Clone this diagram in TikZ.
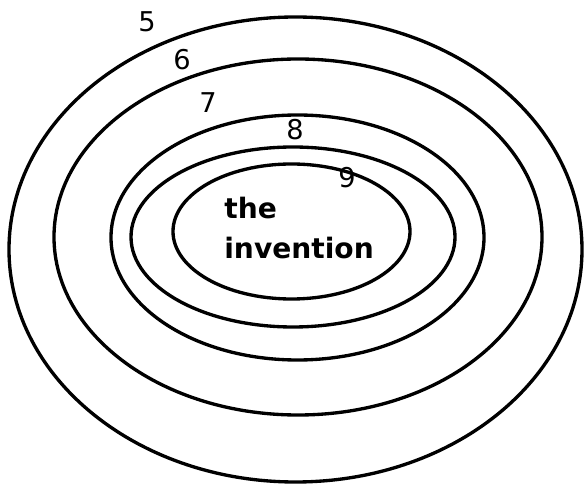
\documentclass[tikz,border=0pt]{standalone}
\usepackage{fontspec}
\setmainfont{DejaVu Sans}
\definecolor{ringblack}{HTML}{000000}
\tikzset{
	ring/.style={draw=ringblack, line width=1.9pt},
	rlabel/.style={inner sep=0pt, font=\fontsize{15.5pt}{18pt}\selectfont, text=ringblack},
	core/.style={inner sep=0pt, align=left, font=\fontsize{16pt}{23pt}\selectfont\bfseries, text=ringblack}
}

\begin{document}
\begin{tikzpicture}[x=0.02cm, y=-0.02cm]
	\useasboundingbox (0,0) rectangle (586,486);
	% rings, outer to inner
	\draw[ring] (295.5,249.5) ellipse [x radius=286.5, y radius=232.5];
	\draw[ring] (298,237) ellipse [x radius=244, y radius=178];
	\draw[ring] (297.5,237.5) ellipse [x radius=186.5, y radius=122.5];
	\draw[ring] (293,237) ellipse [x radius=162, y radius=90];
	\draw[ring] (291.5,231.5) ellipse [x radius=118.5, y radius=67.5];
	% ring numbers
	\node[rlabel] (n5) at (147,22) {5};
	\node[rlabel] (n6) at (182,60) {6};
	\node[rlabel] (n7) at (208,103) {7};
	\node[rlabel] (n8) at (295,130) {8};
	\node[rlabel] (n9) at (347,178) {9};
	\node[core, anchor=west] (inv) at (224,228) {the\\invention};
\end{tikzpicture}
\end{document}
